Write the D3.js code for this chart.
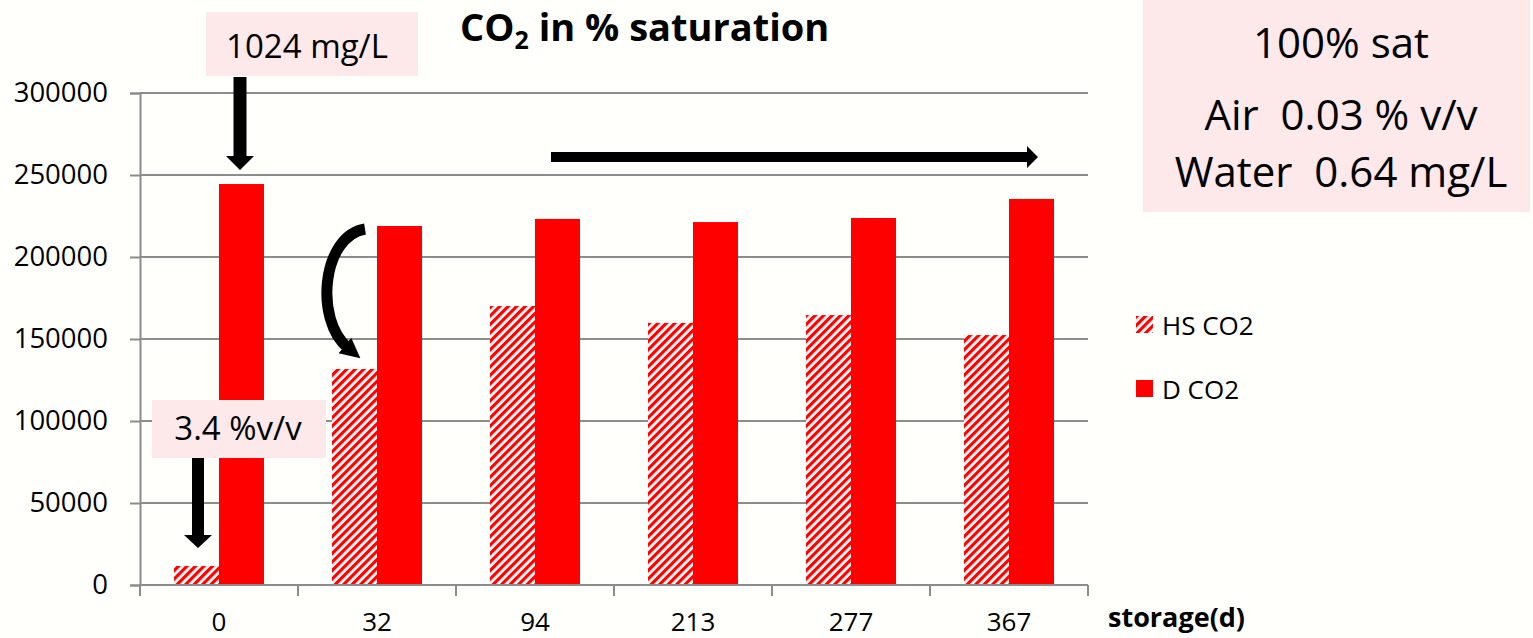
<!DOCTYPE html>
<html>
<head>
<meta charset="utf-8">
<script src="https://cdn.jsdelivr.net/npm/d3@7"></script>
<style>
  html, body { margin: 0; padding: 0; background: #fffffb; }
  svg { display: block; }
  text { font-family: "Open Sans", "Noto Sans", sans-serif; fill: #000; }
</style>
</head>
<body>
<svg id="chart" width="1533" height="638"></svg>
<script>
// Storage days (category axis)
const categories = ["0", "32", "94", "213", "277", "367"];
// CO2 in % saturation, headspace and dissolved
const hsCO2 = [11600, 131700, 170100, 159800, 164600, 152400];
const dCO2  = [244500, 218900, 223200, 221300, 223800, 235400];
const seriesNames = ["HS CO2", "D CO2"];
const yTicks = [0, 50000, 100000, 150000, 200000, 250000, 300000];

(function draw() {
const svg = d3.select("#chart");
const W = 1533, H = 638;
const plotLeft = 140, plotRight = 1088, plotTop = 93, plotBottom = 585;
const grid = "#8c8c8c";
const red = "#ff0000";
const pink = "#fde8ea";

svg.append("rect").attr("width", W).attr("height", H).attr("fill", "#fffffb");

// Hatched fill for headspace bars
const defs = svg.append("defs");
const pat = defs.append("pattern")
  .attr("id", "hatch").attr("patternUnits", "userSpaceOnUse")
  .attr("width", 6).attr("height", 6)
  .attr("patternTransform", "rotate(45)");
pat.append("rect").attr("width", 6).attr("height", 6).attr("fill", "#ffffff");
pat.append("rect").attr("width", 3.2).attr("height", 6).attr("fill", red);

const x = d3.scaleBand().domain(categories).range([plotLeft, plotRight]).padding(0);
const xs = d3.scaleBand().domain(seriesNames).range([0, x.bandwidth()])
  .paddingInner(0).paddingOuter(0.7556);
const y = d3.scaleLinear().domain([0, 300000]).range([plotBottom, plotTop]);

// Gridlines
svg.append("g").selectAll("line").data(yTicks.filter(d => d > 0)).join("line")
  .attr("x1", plotLeft).attr("x2", plotRight)
  .attr("y1", d => y(d)).attr("y2", d => y(d))
  .attr("stroke", grid).attr("stroke-width", 2);

// Y axis
const yAxis = svg.append("g").attr("transform", `translate(${plotLeft},0)`)
  .call(d3.axisLeft(y).tickValues(yTicks).tickSize(10).tickPadding(22)
    .tickFormat(d3.format("d")));
yAxis.select(".domain").attr("stroke", grid).attr("stroke-width", 2);
yAxis.selectAll(".tick line").attr("stroke", grid).attr("stroke-width", 2);
yAxis.selectAll(".tick text").attr("font-size", 27.5)
  .style("font-family", "'Open Sans', sans-serif").attr("fill", "#000");

// Bars
const rows = categories.map((c, i) => ({ c, vals: [
  { s: "HS CO2", v: hsCO2[i] }, { s: "D CO2", v: dCO2[i] } ] }));
const groups = svg.append("g").selectAll("g").data(rows).join("g")
  .attr("transform", d => `translate(${x(d.c)},0)`);
groups.selectAll("rect").data(d => d.vals).join("rect")
  .attr("x", d => xs(d.s)).attr("width", xs.bandwidth())
  .attr("y", d => y(d.v)).attr("height", d => y(0) - y(d.v))
  .attr("fill", d => d.s === "HS CO2" ? "url(#hatch)" : red);

// X axis
const xAxis = svg.append("g").attr("transform", `translate(0,${plotBottom})`);
xAxis.append("line").attr("x1", plotLeft).attr("x2", plotRight)
  .attr("stroke", grid).attr("stroke-width", 2);
const bounds = categories.map(c => x(c)).concat([plotRight]);
xAxis.selectAll(".bt").data(bounds).join("line").attr("class", "bt")
  .attr("x1", d => d).attr("x2", d => d).attr("y1", 0).attr("y2", 11)
  .attr("stroke", grid).attr("stroke-width", 2);
xAxis.selectAll(".lbl").data(categories).join("text").attr("class", "lbl")
  .attr("x", d => x(d) + x.bandwidth() / 2).attr("y", 46)
  .attr("text-anchor", "middle").attr("font-size", 26).text(d => d);

svg.append("text").attr("x", 1108).attr("y", 627)
  .attr("font-size", 27).attr("font-weight", "bold").text("storage(d)");

// Title
const title = svg.append("text").attr("x", 460).attr("y", 41)
  .attr("font-size", 38).attr("font-weight", "bold");
title.append("tspan").text("CO");
title.append("tspan").attr("font-size", 25).attr("dy", 8).text("2");
title.append("tspan").attr("dy", -8).text(" in % saturation");

// Legend
const legend = svg.append("g");
seriesNames.forEach((s, i) => {
  const ly = 316 + i * 64;
  legend.append("rect").attr("x", 1136).attr("y", ly).attr("width", 17).attr("height", 17)
    .attr("fill", i === 0 ? "url(#hatch)" : red);
  legend.append("text").attr("x", 1162).attr("y", ly + 19)
    .attr("font-size", 26).text(s);
});

// Annotation boxes
svg.append("rect").attr("x", 206).attr("y", 12).attr("width", 212).attr("height", 64).attr("fill", pink);
svg.append("text").attr("x", 307).attr("y", 58).attr("text-anchor", "middle")
  .attr("font-size", 33).text("1024 mg/L");

svg.append("rect").attr("x", 152).attr("y", 400).attr("width", 174).attr("height", 58).attr("fill", pink);
svg.append("text").attr("x", 238).attr("y", 440).attr("text-anchor", "middle")
  .attr("font-size", 33).text("3.4 %v/v");

svg.append("rect").attr("x", 1143).attr("y", 0).attr("width", 387).attr("height", 212).attr("fill", pink);
[["100% sat", 58], ["Air  0.03 % v/v", 130], ["Water  0.64 mg/L", 187]].forEach(([t, ty]) => {
  svg.append("text").attr("x", 1341).attr("y", ty).attr("text-anchor", "middle")
    .attr("font-size", 42).style("white-space", "pre").text(t);
});

// Block arrows
function downArrow(cx, y0, y1, shaft, head, headLen) {
  svg.append("path").attr("fill", "#000").attr("d",
    `M${cx - shaft / 2},${y0} L${cx + shaft / 2},${y0} L${cx + shaft / 2},${y1 - headLen}
     L${cx + head / 2},${y1 - headLen} L${cx},${y1} L${cx - head / 2},${y1 - headLen}
     L${cx - shaft / 2},${y1 - headLen} Z`);
}
downArrow(240, 77, 170, 13, 28, 14);
downArrow(198, 458, 548, 12, 28, 13);

svg.append("path").attr("fill", "#000").attr("d",
  `M551,152 L1027,152 L1027,146 L1038,157 L1027,168 L1027,162 L551,162 Z`);

// Curved arrow
defs.append("marker").attr("id", "head").attr("markerUnits", "userSpaceOnUse")
  .attr("viewBox", "0 0 10 10").attr("refX", 2).attr("refY", 5)
  .attr("markerWidth", 20).attr("markerHeight", 24).attr("orient", "auto")
  .append("path").attr("d", "M0,0 L10,5 L0,10 Z").attr("fill", "#000");
svg.append("path").attr("d", "M365,229 C322,236 314,320 348,348")
  .attr("fill", "none").attr("stroke", "#000").attr("stroke-width", 11)
  .attr("marker-end", "url(#head)");
})();
</script>
</body>
</html>
